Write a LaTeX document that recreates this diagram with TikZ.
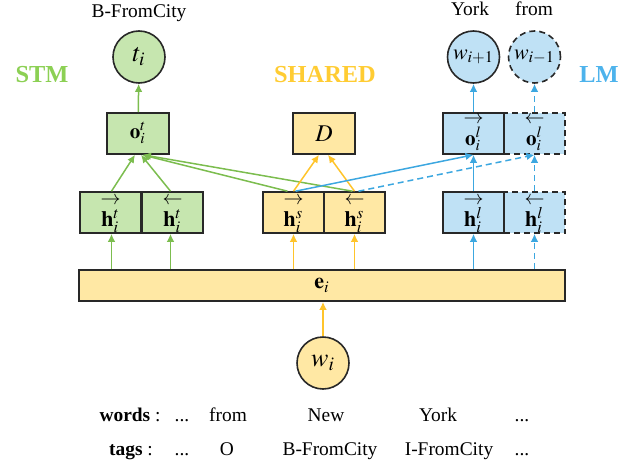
\documentclass[tikz,border=0pt]{standalone}
\usepackage{mathptmx}
\usepackage{fontspec}
\setmainfont{Liberation Serif}
\usetikzlibrary{arrows.meta}

\definecolor{gfill}{RGB}{198,230,175}
\definecolor{gline}{RGB}{124,189,79}
\definecolor{gtext}{RGB}{140,208,84}
\definecolor{yfill}{RGB}{255,232,164}
\definecolor{yline}{RGB}{255,196,43}
\definecolor{ytext}{RGB}{255,204,51}
\definecolor{bfill}{RGB}{191,225,245}
\definecolor{bline}{RGB}{60,167,224}
\definecolor{btext}{RGB}{77,179,236}
\definecolor{edge}{RGB}{40,40,40}

% direction arrow set well above a state vector, sharing its baseline
\newcommand{\dirvec}[2]{\ooalign{\hidewidth\raisebox{10.8pt}{\fontsize{10}{10}\selectfont$#1$}\hidewidth\cr$#2$\cr}}

\begin{document}
\begin{tikzpicture}[x=0.5pt,y=-0.5pt,
  every node/.style={font=\fontsize{9.7}{11.6}\selectfont},
  txt/.style={anchor=base},
  box/.style={draw=edge, line width=0.8pt, minimum width=30.75pt, minimum height=20.5pt,
    inner sep=0pt, font=\fontsize{11}{11}\selectfont},
  hbox/.style={box, text height=14pt, text depth=0pt},
  obox/.style={box, text height=11.5pt, text depth=0pt, font=\fontsize{10.5}{11}\selectfont},
  circ/.style={circle, draw=edge, line width=0.8pt, minimum size=26pt, inner sep=0pt,
    font=\fontsize{13}{15}\selectfont},
  dashbox/.style={dash pattern=on 3pt off 2pt},
  arr/.style={-{Latex[length=4pt,width=3.8pt]}, line width=0.75pt},
  grp/.style={anchor=base, font=\fontsize{12.2}{14}\selectfont\bfseries}
]
\useasboundingbox (0,0) rectangle (636,465);

% group titles
\node[grp, text=gtext] (stm) at (42,83) {STM};
\node[grp, text=ytext] (shared) at (325,83) {SHARED};
\node[grp, text=btext] (lm) at (599,83) {LM};

% embedding layer and input word
\node[box, fill=yfill, minimum width=243pt, minimum height=15.5pt] (e) at (322,285.5) {$\mathbf{e}_i$};
\node[circ, fill=yfill] (w) at (323,363) {$w_i$};

% bidirectional hidden states
\node[hbox, fill=gfill] (htf) at (110.5,212.5) {\dirvec{\rightarrow}{\mathbf{h}_i^t}};
\node[hbox, fill=gfill] (htb) at (172.5,212.5) {\dirvec{\leftarrow}{\mathbf{h}_i^t}};
\node[hbox, fill=yfill] (hsf) at (293.5,212.5) {\dirvec{\rightarrow}{\mathbf{h}_i^s}};
\node[hbox, fill=yfill] (hsb) at (354.5,212.5) {\dirvec{\leftarrow}{\mathbf{h}_i^s}};
\node[hbox, fill=bfill, dashbox] (hlb) at (534.5,212.5) {\dirvec{\leftarrow}{\mathbf{h}_i^l}};
\node[hbox, fill=bfill] (hlf) at (473.5,212.5) {\dirvec{\rightarrow}{\mathbf{h}_i^l}};

% output layer
\node[box, fill=gfill, text height=4.5pt, text depth=0pt, font=\fontsize{10.5}{11}\selectfont] (ot) at (138,133.5) {$\mathbf{o}_i^t$};
\node[box, fill=yfill, font=\fontsize{12}{13}\selectfont] (d) at (324,133.5) {$D$};
\node[obox, fill=bfill, dashbox] (olb) at (534.5,133.5) {\dirvec{\leftarrow}{\mathbf{o}_i^l}};
\node[obox, fill=bfill] (olf) at (473.5,133.5) {\dirvec{\rightarrow}{\mathbf{o}_i^l}};

% predictions
\node[circ, fill=gfill] (t) at (139,57) {$t_i$};
\node[circ, fill=bfill, font=\fontsize{11}{13}\selectfont] (wn) at (473.5,57) {$w_{i+1}$};
\node[circ, fill=bfill, dashbox, font=\fontsize{11}{13}\selectfont] (wp) at (534.5,57) {$w_{i-1}$};
\node[txt] (lt) at (139,18) {B-FromCity};
\node[txt] (lwn) at (470,16) {York};
\node[txt] (lwp) at (534,16) {from};

% input to embedding
\draw[arr, yline] (w) -- (w |- e.south);

% embedding to hidden states
\draw[arr, gline] ([xshift=0.5pt]htf.south |- e.north) -- ([xshift=0.5pt]htf.south);
\draw[arr, gline] ([xshift=-1pt]htb.south |- e.north) -- ([xshift=-1pt]htb.south);
\draw[arr, yline] (hsf.south |- e.north) -- (hsf.south);
\draw[arr, yline] (hsb.south |- e.north) -- (hsb.south);
\draw[arr, bline] (hlf.south |- e.north) -- (hlf.south);
\draw[arr, bline, dashbox] (hlb.south |- e.north) -- (hlb.south);

% hidden states to tagger output
\draw[arr, gline] ([xshift=0.5pt]htf.north) -- ([xshift=-1.5pt]ot.south);
\draw[arr, gline] ([xshift=-1pt]htb.north) -- ([xshift=1.5pt]ot.south);
\draw[arr, gline] ([xshift=-3pt]hsf.north) -- ([xshift=2pt]ot.south);
\draw[arr, gline] ([xshift=-1pt]hsb.north) -- ([xshift=2.5pt]ot.south);

% shared states to discriminator
\draw[arr, yline] (hsf.north) -- ([xshift=-2.5pt]d.south);
\draw[arr, yline] (hsb.north) -- ([xshift=2pt]d.south);

% states to language model output
\draw[arr, bline] ([xshift=1pt]hsf.north) -- (olf.south);
\draw[arr, bline, dashbox] ([xshift=2pt]hsb.north) -- (olb.south);
\draw[arr, bline] (hlf) -- (olf);
\draw[arr, bline, dashbox] (hlb) -- (olb);

% outputs to predictions
\draw[arr, gline] (ot) -- (t);
\draw[arr, bline] (olf) -- (wn);
\draw[arr, bline, dashbox] (olb) -- (wp);

% example sentence
\node[txt] (wl) at (130,421) {\textbf{words} :};
\node[txt] (w1) at (182,421) {...};
\node[txt] (w2) at (228,421) {from};
\node[txt] (w3) at (326,421) {New};
\node[txt] (w4) at (438,421) {York};
\node[txt] (w5) at (522,421) {...};
\node[txt] (tl) at (131,455) {\textbf{tags} :};
\node[txt] (t1) at (182,455) {...};
\node[txt] (t2) at (227,455) {O};
\node[txt] (t3) at (330,455) {B-FromCity};
\node[txt] (t4) at (449,455) {I-FromCity};
\node[txt] (t5) at (522,455) {...};
\end{tikzpicture}
\end{document}
